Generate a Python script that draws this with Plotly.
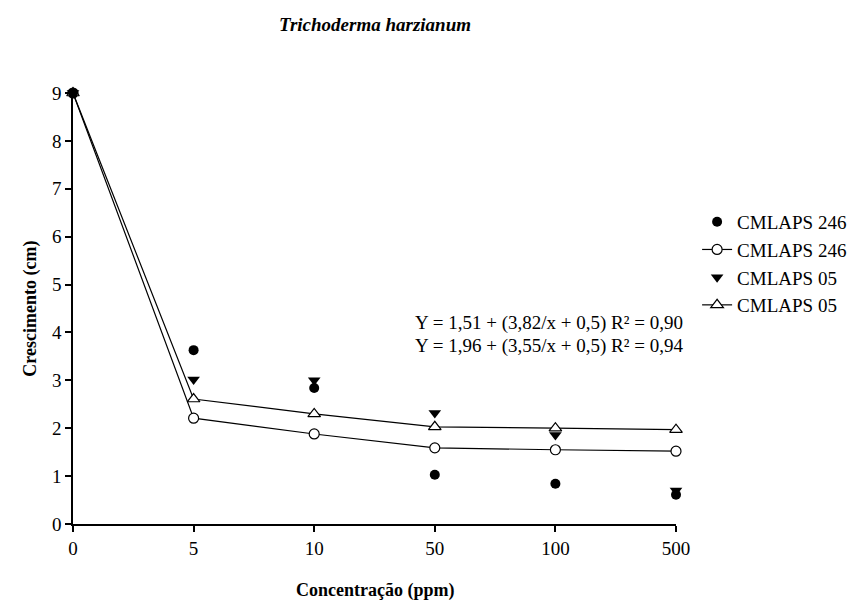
import plotly.graph_objects as go

categories = ["0", "5", "10", "50", "100", "500"]
obs_246 = [9.0, 3.63, 2.84, 1.03, 0.84, 0.61]
fit_246 = [9.0, 2.21, 1.88, 1.59, 1.55, 1.52]
obs_05 = [9.0, 3.02, 3.0, 2.32, 1.86, 0.70]
fit_05 = [9.0, 2.61, 2.30, 2.03, 2.00, 1.97]
series_names = ["CMLAPS 246", "CMLAPS 246", "CMLAPS 05", "CMLAPS 05"]
equations = ["Y = 1,51 + (3,82/x + 0,5) R² = 0,90",
             "Y = 1,96 + (3,55/x + 0,5) R² = 0,94"]
x_title = "Concentração (ppm)"
y_title = "Crescimento (cm)"
y_ticks = list(range(0, 10))

FONT = "Liberation Serif"
PLOT_W, PLOT_H = 864 - 73 - 186, 604 - 93 - 80

fig = go.Figure()
# fitted curves drawn first, observed points on top; legendrank keeps legend order
fig.add_trace(go.Scatter(
    x=categories, y=fit_246, mode="lines+markers", name=series_names[1], legendrank=2,
    line=dict(color="black", width=1.2),
    marker=dict(symbol="circle", size=10, color="white",
                line=dict(color="black", width=1.2)), cliponaxis=False))
fig.add_trace(go.Scatter(
    x=categories, y=fit_05, mode="lines+markers", name=series_names[3], legendrank=4,
    line=dict(color="black", width=1.2),
    marker=dict(symbol="triangle-up", size=11, color="white",
                line=dict(color="black", width=1.2)), cliponaxis=False))
fig.add_trace(go.Scatter(
    x=categories, y=obs_05, mode="markers", name=series_names[2], legendrank=3,
    marker=dict(symbol="triangle-down", size=11, color="black"), cliponaxis=False))
fig.add_trace(go.Scatter(
    x=categories, y=obs_246, mode="markers", name=series_names[0], legendrank=1,
    marker=dict(symbol="circle", size=10, color="black"), cliponaxis=False))

for i, eq in enumerate(equations):
    fig.add_annotation(text=eq, xref="paper", yref="paper",
                       x=1.015, y=(524 - (323 + 23 * i)) / PLOT_H,
                       xanchor="right", yanchor="middle", showarrow=False,
                       font=dict(family=FONT, size=19, color="black"))

# axis titles as annotations for exact placement
fig.add_annotation(text="<b>" + x_title + "</b>", xref="paper", yref="paper",
                   x=0.5, y=(524 - 590) / PLOT_H, xanchor="center", yanchor="middle",
                   showarrow=False, font=dict(family=FONT, size=18, color="black"))
fig.add_annotation(text="<b>" + y_title + "</b>", xref="paper", yref="paper",
                   x=(30 - 73) / PLOT_W, y=0.5, xanchor="center", yanchor="middle",
                   textangle=-90, showarrow=False,
                   font=dict(family=FONT, size=18, color="black"))

fig.update_layout(
    width=864, height=604,
    margin=dict(l=73, r=186, t=93, b=80),
    paper_bgcolor="white", plot_bgcolor="white",
    font=dict(family=FONT, size=19, color="black"),
    title=dict(text="<b><i>Trichoderma harzianum</i></b>", x=375 / 864, xanchor="center",
               y=1 - 24 / 604, yanchor="middle", font=dict(family=FONT, size=19)),
    showlegend=True,
    legend=dict(x=1.035, y=0.745, xanchor="left", yanchor="top",
                bgcolor="rgba(0,0,0,0)", font=dict(family=FONT, size=19),
                tracegroupgap=0, itemsizing="trace"),
    xaxis=dict(type="category", range=[0, 5], showgrid=False, zeroline=False,
               automargin=False,
               showline=True, linecolor="black", linewidth=1.5,
               ticks="outside", ticklen=6, tickcolor="black", tickwidth=1.5,
               tickfont=dict(family=FONT, size=19)),
    yaxis=dict(range=[0, 9], tickvals=y_ticks, showgrid=False, zeroline=False,
               automargin=False,
               showline=True, linecolor="black", linewidth=1.5,
               ticks="outside", ticklen=6, tickcolor="black", tickwidth=1.5,
               tickfont=dict(family=FONT, size=19)),
)

fig.write_html("out.html")
